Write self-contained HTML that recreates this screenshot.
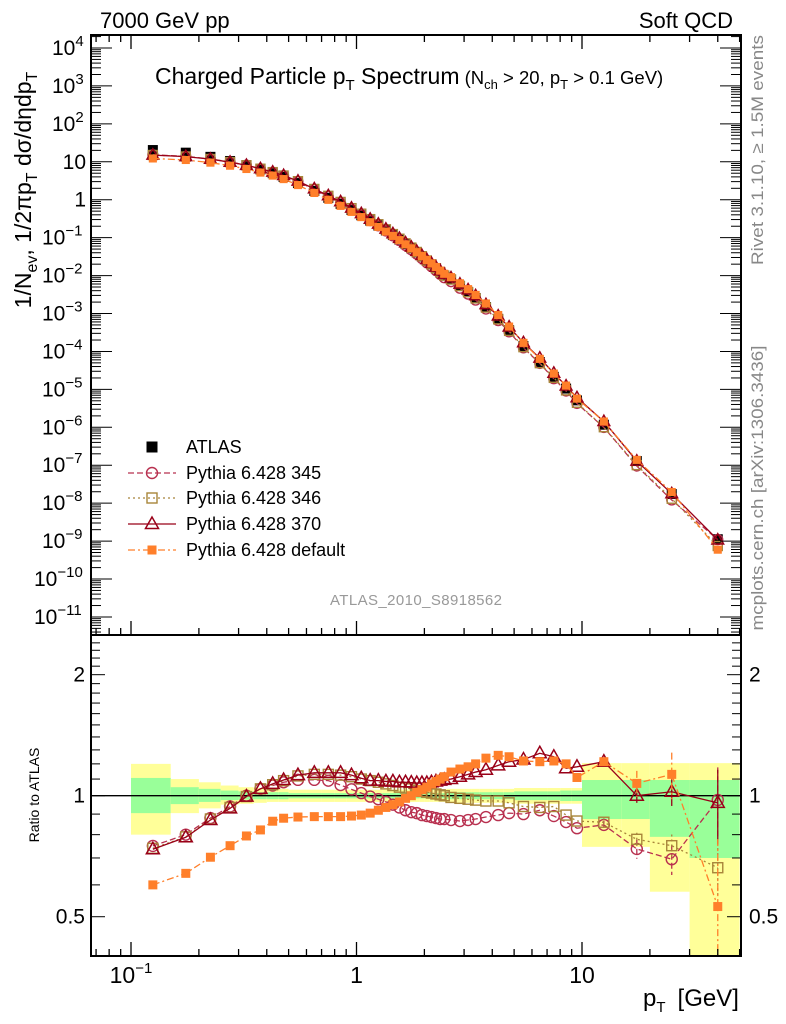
<!DOCTYPE html>
<html><head><meta charset="utf-8"><style>
body{margin:0;background:#fff}
svg{display:block;font-family:"Liberation Sans",sans-serif}
</style></head><body>
<svg id="c" width="786" height="1024" viewBox="0 0 786 1024" xmlns="http://www.w3.org/2000/svg">
<defs>
<clipPath id="cm"><rect x="91" y="35" width="650" height="600"/></clipPath>
<clipPath id="cr"><rect x="91" y="635" width="650" height="321"/></clipPath>
</defs>
<g id="bands" clip-path="url(#cr)"></g>
<g id="ratio" clip-path="url(#cr)"></g>
<g id="main" clip-path="url(#cm)"></g>
<g id="axes"></g>
<text x="100" y="28" font-size="22">7000 GeV pp</text>
<text x="733" y="28" font-size="22" text-anchor="end">Soft QCD</text>
<text x="155" y="84" font-size="23">Charged Particle p<tspan font-size="15" dy="6">T</tspan><tspan dy="-6"> Spectrum</tspan><tspan font-size="18.5"> (N</tspan><tspan font-size="13" dy="5">ch</tspan><tspan font-size="18.5" dy="-5"> &gt; 20, p</tspan><tspan font-size="13" dy="5">T</tspan><tspan font-size="18.5" dy="-5"> &gt; 0.1 GeV)</tspan></text>
<text transform="translate(31,190) rotate(-90)" text-anchor="middle" font-size="23">1/N<tspan font-size="16" dy="6">ev</tspan><tspan dy="-6">, 1/2πp</tspan><tspan font-size="16" dy="6">T</tspan><tspan dy="-6"> dσ/dηdp</tspan><tspan font-size="16" dy="6">T</tspan></text>
<text transform="translate(39,795) rotate(-90)" text-anchor="middle" font-size="14">Ratio to ATLAS</text>
<text x="643" y="1006" font-size="24">p<tspan font-size="15" dy="6">T</tspan><tspan dy="-6" dx="12">[GeV]</tspan></text>
<text transform="translate(763,150) rotate(-90)" text-anchor="middle" font-size="17" textLength="230" lengthAdjust="spacingAndGlyphs" fill="#888">Rivet 3.1.10, ≥ 1.5M events</text>
<text transform="translate(763,488) rotate(-90)" text-anchor="middle" font-size="17" textLength="285" lengthAdjust="spacingAndGlyphs" fill="#888">mcplots.cern.ch [arXiv:1306.3436]</text>
<text x="416" y="605" font-size="15" fill="#999" text-anchor="middle" textLength="172">ATLAS_2010_S8918562</text>
<g id="legend"></g>
</svg>
<script>
const pt=[0.125,0.175,0.225,0.275,0.325,0.375,0.425,0.475,0.55,0.65,0.75,0.85,0.95,1.05,1.15,1.25,1.35,1.45,1.55,1.65,1.75,1.85,1.95,2.05,2.15,2.25,2.35,2.45,2.625,2.875,3.125,3.375,3.75,4.25,4.75,5.5,6.5,7.5,8.5,9.5,12.5,17.5,25,40];
const binEdges=[0.1,0.15,0.2,0.25,0.3,0.35,0.4,0.45,0.5,0.6,0.7,0.8,0.9,1.0,1.1,1.2,1.3,1.4,1.5,1.6,1.7,1.8,1.9,2.0,2.1,2.2,2.3,2.4,2.5,2.75,3.0,3.25,3.5,4.0,4.5,5.0,6,7,8,9,10,15,20,30,50];
const atlas=[20.4,17.4,13.5,10.5,8.13,6.31,5.01,3.98,2.75,1.70,1.12,0.776,0.537,0.389,0.282,0.209,0.155,0.117,0.0891,0.0676,0.0525,0.0407,0.0316,0.0245,0.0195,0.0155,0.0123,0.0100,0.00794,0.00537,0.00372,0.00257,0.00148,7.24e-4,3.63e-4,1.38e-4,5.25e-5,2.14e-5,1.05e-5,5.13e-6,1.17e-6,1.29e-7,1.74e-8,1.12e-9];
const r345=[0.75,0.80,0.88,0.94,1.0,1.04,1.06,1.08,1.095,1.095,1.09,1.063,1.037,1.015,0.995,0.98,0.965,0.95,0.935,0.92,0.91,0.905,0.895,0.89,0.885,0.88,0.875,0.875,0.87,0.865,0.87,0.875,0.885,0.895,0.905,0.90,0.92,0.89,0.86,0.83,0.846,0.737,0.695,0.976];
const r346=[0.74,0.79,0.875,0.935,0.995,1.04,1.065,1.09,1.12,1.13,1.13,1.125,1.115,1.10,1.09,1.08,1.07,1.06,1.05,1.045,1.04,1.03,1.025,1.02,1.015,1.01,1.005,1.0,0.99,0.985,0.98,0.975,0.97,0.97,0.96,0.94,0.935,0.94,0.895,0.865,0.859,0.779,0.751,0.662];
const r370=[0.736,0.788,0.87,0.93,0.995,1.04,1.07,1.094,1.125,1.14,1.14,1.14,1.125,1.105,1.09,1.09,1.085,1.085,1.08,1.08,1.078,1.075,1.075,1.075,1.08,1.085,1.09,1.095,1.10,1.115,1.13,1.145,1.16,1.19,1.215,1.23,1.275,1.25,1.17,1.18,1.215,1.0,1.023,0.96];
const rDef=[0.60,0.641,0.703,0.751,0.794,0.822,0.864,0.879,0.885,0.887,0.887,0.887,0.89,0.895,0.905,0.92,0.935,0.95,0.965,0.985,1.0,1.02,1.035,1.05,1.07,1.085,1.10,1.115,1.145,1.165,1.18,1.20,1.24,1.26,1.25,1.22,1.215,1.22,1.20,1.11,1.215,1.073,1.13,0.53];
const errTailDef=[0.03,0.08,0.15,0.25];
const errTail345=[0.02,0.04,0.06,0.2];
const errTail346=[0.02,0.03,0.05,0.1];
const errTail370=[0.02,0.04,0.08,0.2];
const yelHi=[1.20,1.10,1.08,1.06,1.05,1.045,1.04,1.04,1.035,1.035,1.035,1.035,1.035,1.035,1.035,1.035,1.035,1.035,1.035,1.035,1.035,1.035,1.035,1.035,1.035,1.035,1.035,1.035,1.04,1.04,1.04,1.04,1.04,1.04,1.04,1.045,1.045,1.045,1.045,1.045,1.205,1.205,1.205,1.205];
const yelLo=[0.80,0.905,0.93,0.95,0.955,0.96,0.965,0.965,0.965,0.965,0.965,0.965,0.965,0.965,0.965,0.965,0.965,0.965,0.965,0.965,0.965,0.965,0.965,0.965,0.965,0.965,0.965,0.965,0.96,0.96,0.96,0.96,0.96,0.96,0.96,0.955,0.955,0.955,0.955,0.955,0.746,0.746,0.577,0.3];
const grnHi=[1.107,1.05,1.04,1.03,1.025,1.02,1.02,1.02,1.015,1.015,1.015,1.015,1.015,1.015,1.015,1.015,1.015,1.015,1.015,1.015,1.015,1.015,1.015,1.015,1.015,1.015,1.015,1.015,1.02,1.02,1.02,1.02,1.02,1.02,1.02,1.025,1.025,1.025,1.03,1.03,1.094,1.094,1.094,1.094];
const grnLo=[0.905,0.953,0.965,0.975,0.978,0.98,0.98,0.98,0.985,0.985,0.985,0.985,0.985,0.985,0.985,0.985,0.985,0.985,0.985,0.985,0.985,0.985,0.985,0.985,0.985,0.985,0.985,0.985,0.98,0.98,0.98,0.98,0.98,0.98,0.98,0.975,0.975,0.975,0.97,0.97,0.875,0.875,0.79,0.70];
const mainTickExp=[4,3,2,1,0,-1,-2,-3,-4,-5,-6,-7,-8,-9,-10,-11];
const ratioTickLabels=[0.5,1,2];
const xTickLabels=[0.1,1,10];

const NS="http://www.w3.org/2000/svg";
const L=91,R=741,T=35,MB=635,RB=956;
const xs=p=>356.5+225.5*Math.log10(p);
const ym=v=>48+(4-Math.log10(v))*37.93;
const yr=r=>795.7-402*Math.log10(r);
function mk(tag,attrs,parent){const e=document.createElementNS(NS,tag);for(const k in attrs)e.setAttribute(k,attrs[k]);parent.appendChild(e);return e;}
const G=id=>document.getElementById(id);

const gb=G('bands');
for(let i=0;i<pt.length;i++){
  const x0=xs(binEdges[i]),x1=xs(binEdges[i+1]);
  const y1=mk('rect',{x:x0,y:yr(yelHi[i]),width:x1-x0,height:yr(yelLo[i])-yr(yelHi[i]),fill:'#ffff99'},gb);
  
  
  const g1=mk('rect',{x:x0,y:yr(grnHi[i]),width:x1-x0,height:yr(grnLo[i])-yr(grnHi[i]),fill:'#99ff99'},gb);
  
  
}
const one=mk('line',{x1:L,x2:R,y1:yr(1),y2:yr(1),stroke:'#000','stroke-width':1.3},gb);



const series=[
 {name:'pythia-345',r:r345,col:'#b8304f',dash:'6,3',mk:'circle',err:errTail345},
 {name:'pythia-346',r:r346,col:'#a8853a',dash:'2,3',mk:'osq',err:errTail346},
 {name:'pythia-370',r:r370,col:'#990018',dash:'',mk:'tri',err:errTail370},
 {name:'pythia-default',r:rDef,col:'#ff7f2a',dash:'7,3,2,3',mk:'fsq',err:errTailDef}
];
function marker(type,x,y,col,parent,s){
  let e;
  if(type==='circle')e=mk('circle',{cx:x,cy:y,r:s*0.55,fill:'none',stroke:col,'stroke-width':1.4},parent);
  else if(type==='osq')e=mk('rect',{x:x-s/2,y:y-s/2,width:s,height:s,fill:'none',stroke:col,'stroke-width':1.4},parent);
  else if(type==='fsq')e=mk('rect',{x:x-s*0.45,y:y-s*0.45,width:s*0.9,height:s*0.9,fill:col},parent);
  else if(type==='bsq')e=mk('rect',{x:x-s/2,y:y-s/2,width:s,height:s,fill:col},parent);
  else e=mk('polygon',{points:`${x},${y-s*0.7} ${x-s*0.65},${y+s*0.45} ${x+s*0.65},${y+s*0.45}`,fill:'none',stroke:col,'stroke-width':1.5},parent);
  return e;
}
const gr=G('ratio');
series.forEach(s=>{
  const pts=pt.map((p,i)=>xs(p)+','+yr(s.r[i])).join(' ');
  const pl=mk('polyline',{points:pts,fill:'none',stroke:s.col,'stroke-width':1.3,'stroke-dasharray':s.dash},gr);
  
  
  s.err.forEach((e,k)=>{
    const i=pt.length-4+k,x=xs(pt[i]);
    const eb=mk('line',{x1:x,x2:x,y1:yr(s.r[i]+e),y2:yr(Math.max(s.r[i]-e,0.2)),stroke:s.col,'stroke-width':1.3,'stroke-dasharray':s.dash},gr);
    
    
  });
  pt.forEach((p,i)=>{
    const m=marker(s.mk,xs(p),yr(s.r[i]),s.col,gr,10);
    
    
  });
});
const gm=G('main');
pt.forEach((p,i)=>{
  const m=marker('bsq',xs(p),ym(atlas[i]),'#000',gm,10);
  
  
});
series.forEach(s=>{
  const pts=pt.map((p,i)=>xs(p)+','+ym(atlas[i]*s.r[i])).join(' ');
  const pl=mk('polyline',{points:pts,fill:'none',stroke:s.col,'stroke-width':1.3,'stroke-dasharray':s.dash},gm);
  
  
  pt.forEach((p,i)=>{
    const m=marker(s.mk,xs(p),ym(atlas[i]*s.r[i]),s.col,gm,9);
    
    
  });
});
const ga=G('axes');
function ln(x1,y1,x2,y2,w){return mk('line',{x1,y1,x2,y2,stroke:'#000','stroke-width':w||1.3},ga);}
const fr1=mk('rect',{x:L,y:T,width:R-L,height:MB-T,fill:'none',stroke:'#000','stroke-width':2},ga);


const fr2=mk('rect',{x:L,y:MB,width:R-L,height:RB-MB,fill:'none',stroke:'#000','stroke-width':2},ga);


for(let d=-2;d<=1;d++)for(let m=1;m<=9;m++){
  const v=m*Math.pow(10,d),x=xs(v);
  if(x<L+1||x>R-1)continue;
  const len=m===1?14:7;
  ln(x,T,x,T+len);ln(x,MB,x,MB-len);ln(x,RB,x,RB-len);
}
xTickLabels.forEach(v=>{
  const t=mk('text',{x:xs(v),y:983,'font-size':23,'text-anchor':'middle'},ga);
  
  
  if(v===0.1){t.innerHTML='10<tspan font-size="15" dy="-10">−1</tspan>';}
  else t.textContent=String(v);
});
for(let d=-12;d<=4;d++)for(let m=1;m<=9;m++){
  const y=ym(m*Math.pow(10,d));
  if(y<T+1||y>MB-1)continue;
  const len=m===1?21:10;
  ln(L,y,L+len,y,1);ln(R,y,R-len,y,1);
}
mainTickExp.forEach(e=>{
  const t=mk('text',{x:e>=0&&e<=1?86:70,y:ym(Math.pow(10,e))+7,'font-size':21,'text-anchor':'end'},ga);
  
  
  if(e===0)t.textContent='1';else if(e===1)t.textContent='10';
  else{t.setAttribute('text-anchor','start');t.setAttribute('x',e<0?(e<=-10?34:42):52);t.innerHTML='10<tspan font-size="15" dy="-9">'+(e<0?'−'+(-e):e)+'</tspan>';}
});
for(let k=4;k<=25;k++){
  const r=k/10,y=yr(r);
  if(y<MB+1||y>RB-1)continue;
  const len=(k===5||k===10||k===20)?14:9;
  ln(L,y,L+len,y,1);ln(R,y,R-len,y,1);
}
ratioTickLabels.forEach(v=>{
  const t=mk('text',{x:85,y:yr(v)+7,'font-size':21,'text-anchor':'end'},ga);
  t.textContent=String(v);
  
  
  const t2=mk('text',{x:749,y:yr(v)+7,'font-size':21},ga);
  t2.textContent=String(v);
  
  
});
const gl=G('legend');
const leg=[{t:'ATLAS',y:447},{t:'Pythia 6.428 345',y:473,s:series[0]},{t:'Pythia 6.428 346',y:498,s:series[1]},{t:'Pythia 6.428 370',y:524,s:series[2]},{t:'Pythia 6.428 default',y:550,s:series[3]}];
leg.forEach(e=>{
  const g=mk('g',{},gl);
  
  
  if(e.s){
    mk('line',{x1:128,x2:176,y1:e.y,y2:e.y,stroke:e.s.col,'stroke-width':1.3,'stroke-dasharray':e.s.dash},g);
    marker(e.s.mk,152,e.y,e.s.col,g,10);
  } else marker('bsq',152,e.y,'#000',g,11);
  const t=mk('text',{x:186,y:e.y+6,'font-size':18},g);
  t.textContent=e.t;
});
</script>
</body></html>
